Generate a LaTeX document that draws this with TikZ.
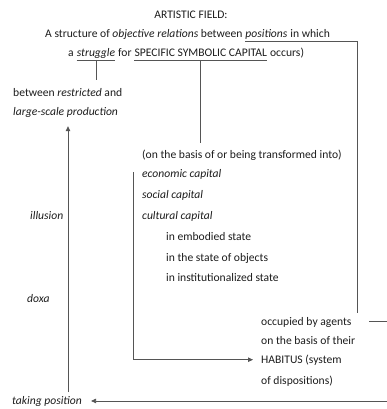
\documentclass[tikz,border=0pt]{standalone}
\usepackage{fontspec}
\setmainfont{Carlito}
\usetikzlibrary{positioning,arrows.meta}

\definecolor{inkgray}{HTML}{1C1C1C}
\definecolor{wiregray}{HTML}{555555}

\begin{document}
\begin{tikzpicture}[x=1pt,y=-1pt,
    font=\fontsize{11.6}{13}\selectfont,
    txt/.style={anchor=base west,inner sep=0pt,text=inkgray},
    wire/.style={draw=wiregray,line width=0.8pt},
    arrowwire/.style={wire,-{Triangle[length=5pt,width=4.5pt]}},
    gap/.style={base right=2.6pt of #1}]
    \clip (0,0) rectangle (387,409);

    \node[txt,anchor=base] (title) at (191,19) {ARTISTIC FIELD:};

    \node[txt] (rel1) at (45,38) {A structure of \textit{objective relations} between};
    \node[txt,gap=rel1] (positions) {\textit{positions}};
    \node[txt,gap=positions] (rel2) {in which};

    \node[txt] (rel3) at (68,57) {a};
    \node[txt,gap=rel3] (struggle) {\textit{struggle}};
    \node[txt,gap=struggle] (rel4) {for};
    \node[txt,gap=rel4] (capital) {SPECIFIC SYMBOLIC CAPITAL};
    \node[txt,gap=capital] (rel5) {occurs)};

    \node[txt] (between) at (13,96) {between \textit{restricted} and};
    \node[txt] (largescale) at (13,115) {\textit{large-scale production}};

    \node[txt] (basis) at (142,158) {(on the basis of or being transformed into)};
    \node[txt] (economic) at (142,177) {\textit{economic capital}};
    \node[txt] (social) at (142,198) {\textit{social capital}};
    \node[txt] (cultural) at (142,219) {\textit{cultural capital}};
    \node[txt] (embodied) at (166,240) {in embodied state};
    \node[txt] (objects) at (166,261) {in the state of objects};
    \node[txt] (institution) at (166,281) {in institutionalized state};

    \node[txt] (illusion) at (30,219) {\textit{illusion}};
    \node[txt] (doxa) at (27,302) {\textit{doxa}};

    \node[txt] (occupied) at (261,325) {occupied by agents};
    \node[txt] (agentsbasis) at (261,344) {on the basis of their};
    \node[txt] (habitus) at (261,363) {HABITUS (system};
    \node[txt] (dispositions) at (261,384) {of dispositions)};

    \node[txt] (taking) at (12,404) {\textit{taking position}};

    \coordinate (posfoot) at (357,313);
    \coordinate (strugglefoot) at (92,80);
    \coordinate (capitalfoot) at (203,143);
    \coordinate (leftfoot) at (68,392);
    \coordinate (capline) at (133,172);
    \coordinate (occstart) at (369,321);
    \coordinate (offpage) at (396,321);

    \draw[wire] ([yshift=-3pt]positions.base west) -| (posfoot);
    \draw[wire] ([yshift=-3pt]struggle.base west) -- ([yshift=-3pt]struggle.base east);
    \draw[wire] ([yshift=-3pt]struggle.base) -- (strugglefoot -| struggle.base);
    \draw[wire] ([yshift=-3pt]capital.base west) -- ([yshift=-3pt]capital.base east);
    \draw[wire] ([yshift=-3pt]capital.base) -- (capitalfoot -| capital.base);

    \draw[arrowwire] (leftfoot) -- ([yshift=-9pt]largescale.south -| leftfoot);
    \draw[arrowwire] (capline) |- ([xshift=-8pt]habitus.west);
    \draw[arrowwire] (occstart) -- (offpage) |- ([xshift=9pt]taking.east);
\end{tikzpicture}
\end{document}
